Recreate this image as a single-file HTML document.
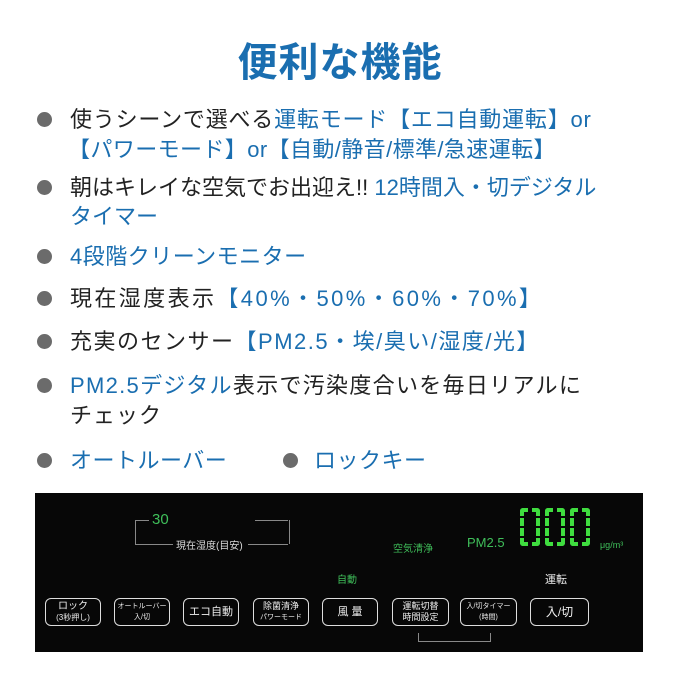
<!DOCTYPE html><html><head><meta charset="utf-8"><style>
body{margin:0;width:680px;height:680px;background:#fff;position:relative;overflow:hidden;font-family:"Liberation Sans","Noto Sans CJK JP",sans-serif}
.a{position:absolute;white-space:nowrap}
h1{position:absolute;left:0;width:680px;top:30px;margin:0;text-align:center;font-size:40px;color:#1a6eb0;font-weight:bold;letter-spacing:1px}
.t{font-size:22px;color:#222;line-height:30px}
.b{color:#1a6eb0}
.dot{position:absolute;width:15px;height:15px;border-radius:50%;background:#6b6b6b}
.p{position:absolute;left:35px;top:493px;width:608px;height:159px;background:#070707}
.btn{position:absolute;top:105px;height:26px;border:1.5px solid #ddd;border-radius:6px;color:#eee;text-align:center;display:flex;flex-direction:column;justify-content:center;line-height:11px}
.g{color:#3fbf5a}
.d{position:absolute;top:15px;width:20px;height:38px;border:4px dashed #3fdc3f;border-radius:3px;box-sizing:border-box}
</style></head><body>
<h1>便利な機能</h1>
<div class="dot" style="left:37px;top:112px"></div>
<div class="a t" style="left:70px;top:105px;letter-spacing:0.8px">使うシーンで選べる<span class="b">運転モード【エコ自動運転】or</span></div>
<div class="a t b" style="left:68px;top:135px;letter-spacing:0.4px">【パワーモード】or【自動/静音/標準/急速運転】</div>
<div class="dot" style="left:37px;top:180px"></div>
<div class="a t" style="left:70px;top:173px">朝はキレイな空気でお出迎え!! <span class="b">12時間入・切デジタル</span></div>
<div class="a t b" style="left:70px;top:202px">タイマー</div>
<div class="dot" style="left:37px;top:249px"></div>
<div class="a t b" style="left:70px;top:242px;letter-spacing:0.5px">4段階クリーンモニター</div>
<div class="dot" style="left:37px;top:291px"></div>
<div class="a t" style="left:70px;top:284px;letter-spacing:2.4px">現在湿度表示<span class="b">【40%・50%・60%・70%】</span></div>
<div class="dot" style="left:37px;top:334px"></div>
<div class="a t" style="left:70px;top:327px;letter-spacing:1.5px">充実のセンサー<span class="b">【PM2.5・埃/臭い/湿度/光】</span></div>
<div class="dot" style="left:37px;top:378px"></div>
<div class="a t" style="left:70px;top:371px;letter-spacing:1.3px"><span class="b">PM2.5デジタル</span>表示で汚染度合いを毎日リアルに</div>
<div class="a t" style="left:70px;top:401px;letter-spacing:1px">チェック</div>
<div class="dot" style="left:37px;top:453px"></div>
<div class="a t b" style="left:70px;top:446px;letter-spacing:0.5px">オートルーバー</div>
<div class="dot" style="left:283px;top:453px"></div>
<div class="a t b" style="left:314px;top:446px;letter-spacing:0.5px">ロックキー</div>
<div class="p">
<div class="a" style="left:100px;top:27px;width:153px;height:24px;border:1px solid #888;border-bottom:none;border-top:none"></div>
<div class="a" style="left:100px;top:27px;width:14px;border-top:1px solid #888"></div>
<div class="a" style="left:220px;top:27px;width:33px;border-top:1px solid #888"></div>
<div class="a" style="left:100px;top:51px;width:38px;border-top:1px solid #888"></div>
<div class="a" style="left:213px;top:51px;width:40px;border-top:1px solid #888"></div>
<div class="a g" style="left:117px;top:18px;font-size:15px">30</div>
<div class="a" style="left:141px;top:44px;font-size:10px;color:#ddd">現在湿度(目安)</div>
<div class="a g" style="left:302px;top:78px;font-size:10px">自動</div>
<div class="a g" style="left:358px;top:47px;font-size:10px">空気清浄</div>
<div class="a g" style="left:432px;top:42px;font-size:13px">PM2.5</div>
<div class="d" style="left:485px"></div><div class="d" style="left:510px"></div><div class="d" style="left:535px"></div>
<div class="a" style="left:565px;top:47px;font-size:9px;color:#3fbf5a">μg/m³</div>
<div class="a" style="left:510px;top:78px;font-size:11px;color:#eee">運転</div>
<div class="btn" style="left:10px;width:54px;font-size:10px">ロック<br><span style="font-size:8px">(3秒押し)</span></div>
<div class="btn" style="left:79px;width:54px;font-size:7px">オートルーバー<br>入/切</div>
<div class="btn" style="left:148px;width:54px;font-size:11px">エコ自動</div>
<div class="btn" style="left:218px;width:54px;font-size:9px">除菌清浄<br><span style="font-size:7px">パワーモード</span></div>
<div class="btn" style="left:287px;width:54px;font-size:11px">風 量</div>
<div class="btn" style="left:357px;width:55px;font-size:9px">運転切替<br>時間設定</div>
<div class="btn" style="left:425px;width:55px;font-size:7px">入/切タイマー<br>(時間)</div>
<div class="btn" style="left:495px;width:57px;font-size:12px">入/切</div>
<div class="a" style="left:383px;top:140px;width:71px;height:8px;border:1px solid #888;border-top:none"></div>
</div>
</body></html>
